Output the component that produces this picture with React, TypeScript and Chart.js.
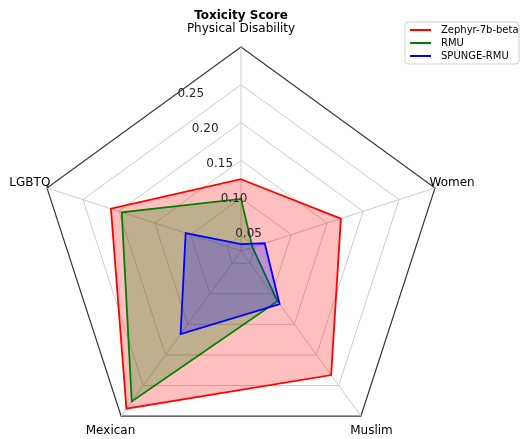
import { useEffect, useRef } from "react";
import { Chart, registerables } from "chart.js";

Chart.register(...registerables);

const CATEGORIES = ["Physical Disability", "Women", "Muslim", "Mexican", "LGBTQ"];
const ZEPHYR = [0.125, 0.169, 0.233, 0.288, 0.211];
const RMU = [0.099, 0.046, 0.112, 0.276, 0.196];
const SPUNGE = [0.039, 0.063, 0.117, 0.166, 0.107];
const TICK_VALUES = [0.05, 0.1, 0.15, 0.2, 0.25];
const R_MIN = 0.03;
const R_MAX = 0.3;
const TITLE = "Toxicity Score";
const SERIES_NAMES = ["Zephyr-7b-beta", "RMU", "SPUNGE-RMU"];

const FONT = '"DejaVu Sans", "Liberation Sans", sans-serif';

const overlayPlugin = {
  id: "overlay",
  afterDatasetsDraw(chart: any) {
    const ctx = chart.ctx as CanvasRenderingContext2D;
    const s = chart.scales.r;
    ctx.save();
    // radial tick labels along a ray 22.5deg counter-clockwise from top
    ctx.font = `12px ${FONT}`;
    ctx.fillStyle = "#262626";
    ctx.textAlign = "left";
    ctx.textBaseline = "alphabetic";
    const a = (22.5 * Math.PI) / 180;
    TICK_VALUES.forEach((v) => {
      const d = s.getDistanceFromCenterForValue(v);
      ctx.fillText(v.toFixed(2), s.xCenter - d * Math.sin(a), s.yCenter - d * Math.cos(a));
    });
    // point labels
    ctx.fillStyle = "#000";
    ctx.textAlign = "center";
    ctx.textBaseline = "middle";
    (chart.data.labels as string[]).forEach((lab, i) => {
      const p = s.getPointPosition(i, s.drawingArea + 18);
      ctx.fillText(lab, p.x, p.y);
    });
    // title
    ctx.font = `bold 12px ${FONT}`;
    ctx.fillText(TITLE, s.xCenter, s.yCenter - s.drawingArea - 31);

    // legend
    const bx = 405, by = 22, bw = 114, bh = 42;
    ctx.beginPath();
    const rr = 3;
    ctx.moveTo(bx + rr, by);
    ctx.lineTo(bx + bw - rr, by);
    ctx.quadraticCurveTo(bx + bw, by, bx + bw, by + rr);
    ctx.lineTo(bx + bw, by + bh - rr);
    ctx.quadraticCurveTo(bx + bw, by + bh, bx + bw - rr, by + bh);
    ctx.lineTo(bx + rr, by + bh);
    ctx.quadraticCurveTo(bx, by + bh, bx, by + bh - rr);
    ctx.lineTo(bx, by + rr);
    ctx.quadraticCurveTo(bx, by, bx + rr, by);
    ctx.closePath();
    ctx.fillStyle = "rgba(255,255,255,0.8)";
    ctx.fill();
    ctx.strokeStyle = "#d0d0d0";
    ctx.lineWidth = 1;
    ctx.stroke();
    ctx.font = `10px ${FONT}`;
    ctx.textAlign = "left";
    ctx.textBaseline = "middle";
    chart.data.datasets.forEach((ds: any, i: number) => {
      const y = by + 8 + i * 13;
      ctx.strokeStyle = ds.borderColor;
      ctx.lineWidth = 2;
      ctx.beginPath();
      ctx.moveTo(bx + 5, y);
      ctx.lineTo(bx + 26, y);
      ctx.stroke();
      ctx.fillStyle = "#000";
      ctx.fillText(ds.label, bx + 36, y + 0.5);
    });
    ctx.restore();
  },
};

export default function App() {
  const ref = useRef<HTMLCanvasElement | null>(null);
  useEffect(() => {
    document.documentElement.style.overflow = "hidden";
    document.body.style.overflow = "hidden";
    const canvas = ref.current!;
    const chart = new Chart(canvas, {
      type: "radar",
      data: {
        labels: CATEGORIES,
        datasets: [
          {
            label: SERIES_NAMES[0],
            data: ZEPHYR,
            borderColor: "#ff0000",
            backgroundColor: "rgba(255,0,0,0.25)",
            borderWidth: 1.8,
            fill: true,
            pointRadius: 0,
            order: 3,
          },
          {
            label: SERIES_NAMES[1],
            data: RMU,
            borderColor: "#008000",
            backgroundColor: "rgba(0,128,0,0.25)",
            borderWidth: 1.8,
            fill: true,
            pointRadius: 0,
            order: 2,
          },
          {
            label: SERIES_NAMES[2],
            data: SPUNGE,
            borderColor: "#0000ff",
            backgroundColor: "rgba(0,0,255,0.25)",
            borderWidth: 1.8,
            fill: true,
            pointRadius: 0,
            order: 1,
          },
        ],
      },
      options: {
        responsive: false,
        animation: false,
        devicePixelRatio: 1,
        layout: { padding: { left: 37, right: 76, top: 47, bottom: 5 } },
        plugins: {
          legend: { display: false },
          title: { display: false },
          tooltip: { enabled: false },
        },
        elements: { line: { tension: 0 } },
        scales: {
          r: {
            min: R_MIN,
            max: R_MAX,
            afterBuildTicks: (scale: any) => {
              scale.ticks = [R_MIN, ...TICK_VALUES, R_MAX].map((v) => ({ value: v }));
            },
            ticks: { display: false },
            pointLabels: { display: false },
            grid: {
              color: (c: any) => (c.tick && c.tick.value >= R_MAX - 1e-9 ? "#3a3a3a" : "#cccccc"),
              lineWidth: (c: any) => (c.tick && c.tick.value >= R_MAX - 1e-9 ? 1.2 : 1),
            },
            angleLines: { color: "#cccccc", lineWidth: 1 },
          },
        },
      },
      plugins: [overlayPlugin],
    });
    return () => chart.destroy();
  }, []);
  return (
    <div style={{ position: "fixed", left: 0, top: 0, width: 521, height: 460, background: "#fff" }}>
      <canvas ref={ref} width={521} height={460} style={{ width: 521, height: 460, display: "block" }} />
    </div>
  );
}
